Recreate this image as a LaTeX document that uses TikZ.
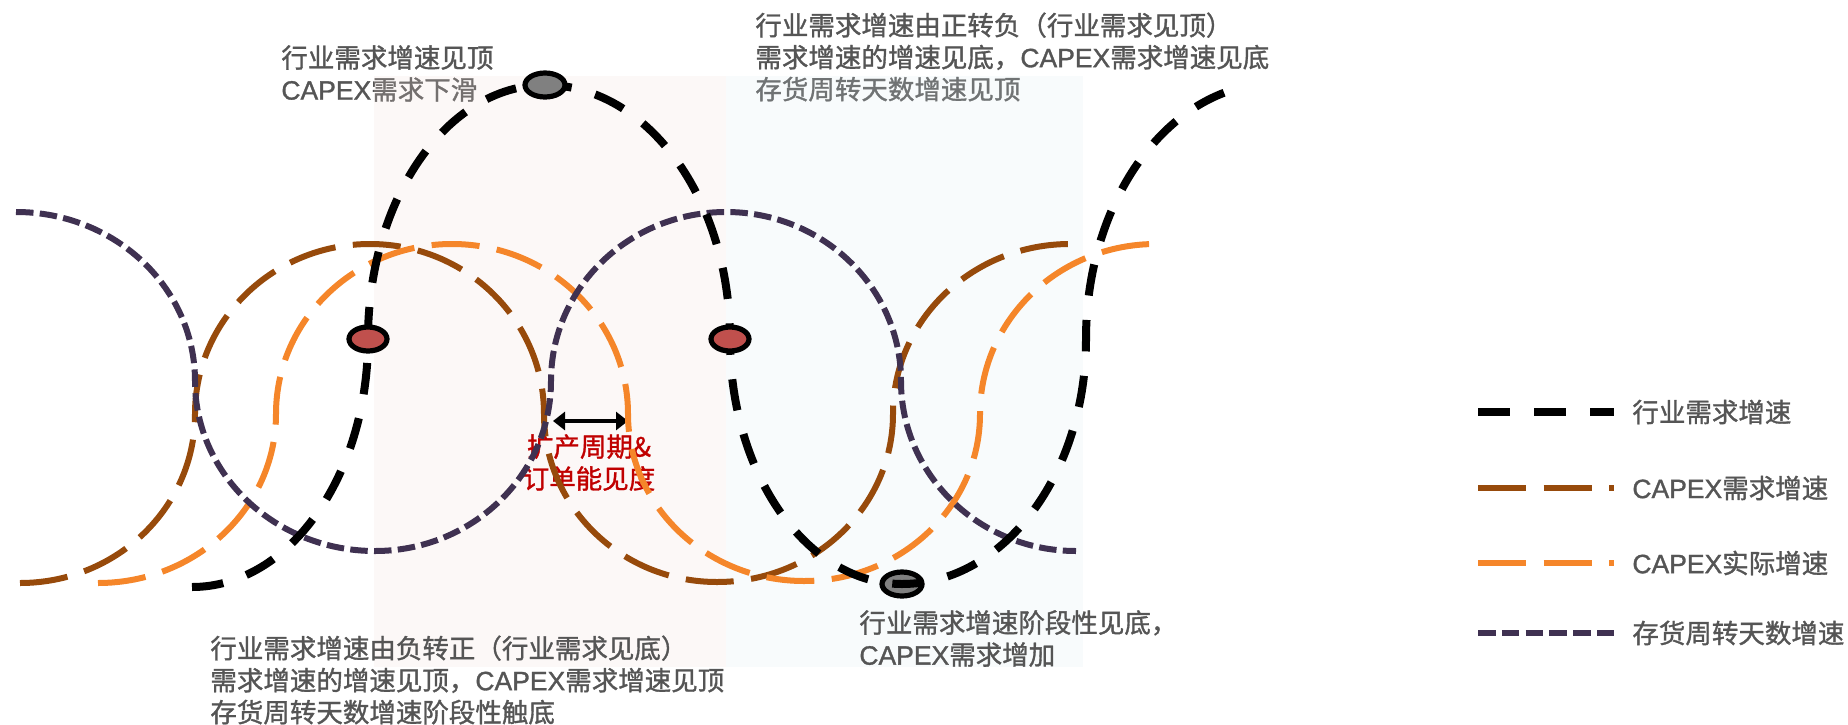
\documentclass[tikz,border=0pt]{standalone}
\usepackage{fontspec}
\setmainfont{Noto Sans CJK SC}[FakeBold=1.2]
\newfontfamily\latfont{Liberation Sans}[FakeBold=1.2]
\usepackage{xcolor}
\usepackage{tikz}
\usetikzlibrary{shapes.geometric,arrows.meta}
\definecolor{txt}{HTML}{555555}
\definecolor{brownc}{HTML}{974A0B}
\definecolor{orangec}{HTML}{F5862A}
\definecolor{purplec}{HTML}{3F3151}
\definecolor{redtxt}{HTML}{C00000}
\definecolor{reddot}{HTML}{C0504D}
\definecolor{graydot}{HTML}{808080}
\definecolor{pinkzone}{HTML}{F0DCD7}
\definecolor{bluezone}{HTML}{DCEBF0}
\newcommand{\labfont}{\fontsize{13.25pt}{16pt}\selectfont}
\newcommand{\cpx}{{\latfont CAPEX}}
\tikzset{
  kline/.style={draw=black, line width=4pt, dash pattern=on 15.75pt off 12.25pt},
  bline/.style={draw=brownc, line width=3pt, dash pattern=on 24pt off 8.75pt},
  oline/.style={draw=orangec, line width=3pt, dash pattern=on 24pt off 8.75pt},
  pline/.style={draw=purplec, line width=3pt, dash pattern=on 8.75pt off 3.15pt},
  gdot/.style={ellipse, draw=black, line width=2.6pt, fill=graydot, inner sep=0pt, minimum width=20pt, minimum height=12pt},
  rdot/.style={ellipse, draw=black, line width=2.6pt, fill=reddot, inner sep=0pt, minimum width=19pt, minimum height=12pt},
  lab/.style={text=txt, font=\labfont, align=left, anchor=west, inner sep=0pt},
  redlab/.style={text=redtxt, font=\labfont, align=center, inner sep=0pt},
  gaparrow/.style={arrows={Triangle[length=6pt,width=9pt]-Triangle[length=6pt,width=9pt]}, line width=2pt},
  zone/.style={fill opacity=0.2},
}

\begin{document}
\begin{tikzpicture}[x=0.5pt, y=-0.5pt]
  \useasboundingbox (0,0) rectangle (1848,724);

  % top texts, under the zones
  \node[lab] (peak) at (281,73.5) {行业需求增速见顶\\\cpx 需求下滑};
  \node[lab] (turndown) at (755,57) {行业需求增速由正转负（行业需求见顶）\\需求增速的增速见底，\cpx 需求增速见底\\存货周转天数增速见顶};

  \fill[zone, pinkzone] (374,76) rectangle (726,667);
  \fill[zone, bluezone] (726,76) rectangle (1083,667);

  \node[redlab] (vis) at (589,462.5) {扩产周期\&\\订单能见度};
  \coordinate (ga) at (553,421);
  \coordinate (gb) at (628,421);
  \draw[gaparrow] (ga) -- (gb);

  \node[gdot] (low) at (902,584) {};

  % curves, quarter ellipses
  \draw[bline] (20,583)
    arc[start angle=90, end angle=0, x radius=175, y radius=169]
    arc[start angle=180, end angle=270, x radius=175, y radius=170]
    arc[start angle=270, end angle=360, x radius=174, y radius=170]
    arc[start angle=180, end angle=90, x radius=173, y radius=168]
    arc[start angle=90, end angle=0, x radius=176, y radius=168]
    arc[start angle=180, end angle=270, x radius=177, y radius=170];
  \draw[oline] (98,583)
    arc[start angle=90, end angle=0, x radius=178, y radius=169]
    arc[start angle=180, end angle=270, x radius=176, y radius=170]
    arc[start angle=270, end angle=360, x radius=176, y radius=170]
    arc[start angle=180, end angle=90, x radius=176, y radius=167]
    arc[start angle=90, end angle=0, x radius=176, y radius=167]
    arc[start angle=180, end angle=270, x radius=176, y radius=170];
  \draw[pline] (16,212)
    arc[start angle=270, end angle=360, x radius=179, y radius=169]
    arc[start angle=180, end angle=90, x radius=180, y radius=170]
    arc[start angle=90, end angle=0, x radius=176, y radius=170]
    arc[start angle=180, end angle=270, x radius=175, y radius=169]
    arc[start angle=270, end angle=360, x radius=175, y radius=169]
    arc[start angle=180, end angle=90, x radius=175, y radius=170];
  \draw[kline] (192,587)
    arc[start angle=90, end angle=0, x radius=176, y radius=248]
    arc[start angle=180, end angle=270, x radius=177, y radius=254]
    arc[start angle=270, end angle=360, x radius=185, y radius=254]
    arc[start angle=180, end angle=90, x radius=172, y radius=245]
    arc[start angle=90, end angle=0, x radius=184, y radius=245]
    arc[start angle=180, end angle=261, x radius=190, y radius=256];

  \node[gdot] (top) at (545,85) {};
  \node[rdot] (up) at (368,339) {};
  \node[rdot] (down) at (730,339) {};

  \node[lab] (turnup) at (210,680) {行业需求增速由负转正（行业需求见底）\\需求增速的增速见顶，\cpx 需求增速见顶\\存货周转天数增速阶段性触底};
  \node[lab] (trough) at (859,638.5) {行业需求增速阶段性见底，\\\cpx 需求增加};

  % legend
  \node[lab] (lk) at (1632,412) {行业需求增速};
  \node[lab] (lb) at (1632,488) {\cpx 需求增速};
  \node[lab] (lo) at (1632,563) {\cpx 实际增速};
  \node[lab] (lp) at (1632,633) {存货周转天数增速};
  \coordinate (lk0) at (1478,412);
  \coordinate (lb0) at (1478,488);
  \coordinate (lo0) at (1478,563);
  \coordinate (lp0) at (1478,633);
  \draw[kline, shorten >=9pt] (lk0) -- (lk.west);
  \draw[bline, shorten >=9pt] (lb0) -- (lb.west);
  \draw[oline, shorten >=9pt] (lo0) -- (lo.west);
  \draw[pline, shorten >=9pt] (lp0) -- (lp.west);
\end{tikzpicture}
\end{document}
